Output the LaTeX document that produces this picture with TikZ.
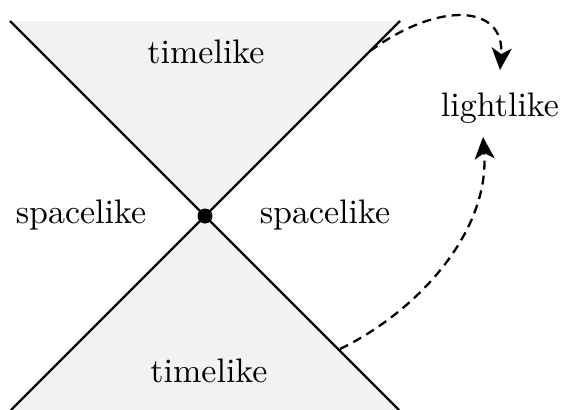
\documentclass[tikz,border=0pt]{standalone}
\usepackage{fontspec}
\setmainfont{lmroman10-regular.otf}
\usetikzlibrary{arrows.meta}
\begin{document}
\begin{tikzpicture}[x=1pt,y=-1pt,
  cone/.style={line width=2.3pt},
  conefill/.style={fill=black!5},
  lbl/.style={font=\fontsize{34}{40}\selectfont, anchor=base, inner sep=0pt},
  dasharrow/.style={line width=2.3pt, dash pattern=on 9pt off 6pt, -{Stealth[length=22pt,width=20pt,inset=6pt]}}]
\useasboundingbox (0,0) rectangle (563,410);
\coordinate (tl) at (10,21);
\coordinate (tr) at (400,21);
\coordinate (c) at (205,216);
\coordinate (bl) at (11,410);
\coordinate (br) at (399,410);
\fill[conefill] (tl) -- (tr) -- (c) -- cycle;
\fill[conefill] (bl) -- (br) -- (c) -- cycle;
\draw[cone] (tl) -- (br);
\draw[cone] (tr) -- (bl);
\fill (c) circle (7.5pt);
\node[lbl] (tu) at (206,63) {timelike};
\node[lbl] (tb) at (209,382) {timelike};
\node[lbl] (sl) at (81,223) {spacelike};
\node[lbl] (sr) at (325,223) {spacelike};
\node[lbl] (ll) at (500,116) {lightlike};
\coordinate (s1) at (370,51);
\coordinate (a1) at (500,70);
\coordinate (s2) at (340,349);
\coordinate (a2) at (483,137);
\draw[dasharrow] (s1) .. controls (440,0) and (505,5) .. (a1);
\draw[dasharrow] (s2) .. controls (420,310) and (490,230) .. (a2);
\end{tikzpicture}
\end{document}
